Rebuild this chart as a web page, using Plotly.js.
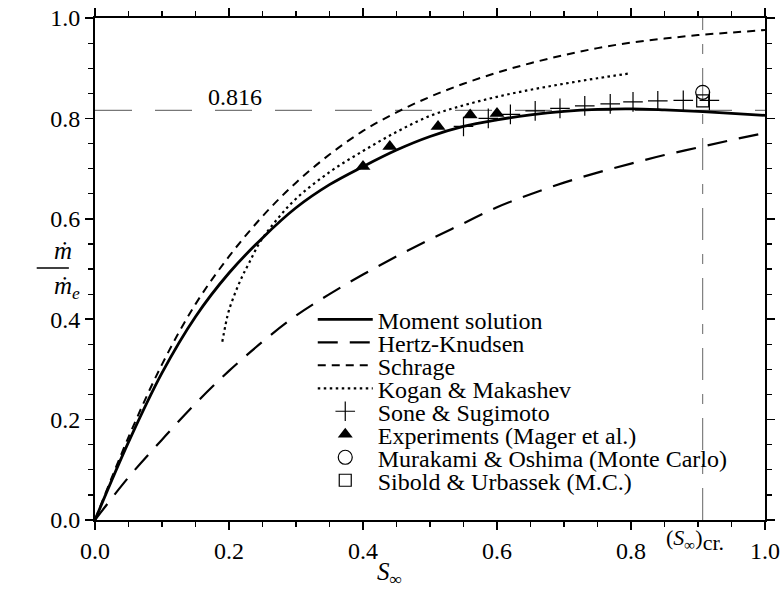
<!DOCTYPE html>
<html>
<head>
<meta charset="utf-8">
<script src="https://cdn.plot.ly/plotly-3.0.1.min.js"></script>
<style>html,body{margin:0;padding:0;background:#fff;}#chart{width:784px;height:590px;}</style>
</head>
<body>
<div id="chart"></div>
<script>
// ---- data ----
const sMoment = [0,0.05,0.1,0.15,0.2,0.25,0.3,0.35,0.4,0.45,0.5,0.55,0.6,0.65,0.7,0.75,0.8,0.85,0.9,0.95,1.0];
const mMoment = [0,0.155,0.293,0.405,0.492,0.562,0.622,0.668,0.704,0.737,0.764,0.784,0.797,0.807,0.814,0.818,0.819,0.817,0.814,0.810,0.806];

const sHK = [0,0.05,0.1,0.15,0.2,0.25,0.3,0.35,0.4,0.45,0.5,0.55,0.6,0.65,0.7,0.75,0.8,0.85,0.9,0.95,1.0];
const mHK = [0,0.085,0.16,0.232,0.297,0.355,0.407,0.45,0.489,0.525,0.559,0.591,0.623,0.649,0.672,0.692,0.71,0.727,0.742,0.757,0.771];

const sSchrage = [0,0.05,0.1,0.15,0.2,0.25,0.3,0.35,0.4,0.45,0.5,0.55,0.6,0.65,0.7,0.75,0.8,0.85,0.9,0.95,1.0];
const mSchrage = [0,0.165,0.31,0.43,0.525,0.605,0.672,0.728,0.775,0.812,0.843,0.869,0.891,0.91,0.926,0.94,0.951,0.959,0.966,0.971,0.976];

const sKogan = [0.19,0.195,0.2,0.21,0.22,0.23,0.246,0.27,0.3,0.35,0.4,0.45,0.5,0.55,0.6,0.65,0.7,0.75,0.8];
const mKogan = [0.355,0.39,0.418,0.455,0.486,0.512,0.553,0.596,0.64,0.693,0.735,0.773,0.805,0.826,0.843,0.857,0.869,0.88,0.89];

const sSone = [0.55,0.587,0.62,0.657,0.694,0.731,0.769,0.803,0.84,0.878,0.917];
const mSone = [0.784,0.800,0.808,0.815,0.820,0.825,0.829,0.833,0.835,0.836,0.836];

const sExp = [0.40,0.44,0.512,0.56,0.60];
const mExp = [0.704,0.744,0.784,0.807,0.81];

const sMurakami = [0.907];
const mMurakami = [0.852];
const sSibold = [0.907];
const mSibold = [0.835];

const sCritical = 0.907;
const mLimit = 0.816;

const legendNames = ["Moment solution","Hertz-Knudsen","Schrage","Kogan & Makashev","Sone & Sugimoto","Experiments (Mager et al.)","Murakami & Oshima (Monte Carlo)","Sibold & Urbassek (M.C.)"];
const xTicks = [0,0.2,0.4,0.6,0.8,1.0];
const xTickText = ["0.0","0.2","0.4","0.6","0.8","1.0"];
const yTicks = [0,0.2,0.4,0.6,0.8,1.0];
const yTickText = ["0.0","0.2","0.4","0.6","0.8","1.0"];

// ---- chart ----
const FONT = "Liberation Serif";
const legId = i => i === 0 ? "legend" : "legend" + (i + 1);

const traces = [
  {x:[0,1], y:[mLimit,mLimit], mode:"lines", line:{color:"#777", width:1.2, dash:"37px,23px"}, showlegend:false, hoverinfo:"skip"},
  {x:[sCritical,sCritical], y:[0,1], mode:"lines", line:{color:"#666", width:1, dash:"32px,14px,10px,14px"}, showlegend:false, hoverinfo:"skip"},
  {x:sHK, y:mHK, mode:"lines", name:legendNames[1], legend:legId(1), line:{color:"#000", width:2.2, dash:"20px,12px", shape:"spline"}},
  {x:sSchrage, y:mSchrage, mode:"lines", name:legendNames[2], legend:legId(2), line:{color:"#000", width:2, dash:"8px,6px", shape:"spline"}},
  {x:sKogan, y:mKogan, mode:"lines", name:legendNames[3], legend:legId(3), line:{color:"#000", width:2.2, dash:"2.5px,3.5px", shape:"spline"}},
  {x:sMoment, y:mMoment, mode:"lines", name:legendNames[0], legend:legId(0), line:{color:"#000", width:2.8, shape:"spline"}},
  {x:sSone, y:mSone, mode:"markers", name:legendNames[4], legend:legId(4), marker:{symbol:"cross-thin-open", size:14, color:"#000", line:{color:"#000", width:1.2}}},
  {x:sExp, y:mExp, mode:"markers", name:legendNames[5], legend:legId(5), marker:{symbol:"triangle-up", size:13, color:"#000"}},
  {x:sMurakami, y:mMurakami, mode:"markers", name:legendNames[6], legend:legId(6), marker:{symbol:"circle-open", size:14, color:"#000", line:{color:"#000", width:1.2}}},
  {x:sSibold, y:mSibold, mode:"markers", name:legendNames[7], legend:legId(7), marker:{symbol:"square-open", size:12, color:"#000", line:{color:"#000", width:1.2}}}
];

const axisCommon = {
  range:[0,1], showgrid:false, zeroline:false, showline:true, linecolor:"#000", linewidth:2,
  mirror:"allticks", ticks:"outside", ticklen:8, tickwidth:1.5, tickcolor:"#000",
  minor:{dtick:0.05, ticks:"outside", ticklen:5, tickwidth:1.2, tickcolor:"#000"},
  tickfont:{family:FONT, size:24, color:"#000"}, fixedrange:true
};

const layout = {
  width:784, height:590,
  margin:{l:95, r:19, t:18, b:70},
  paper_bgcolor:"#fff", plot_bgcolor:"#fff",
  font:{family:FONT, color:"#000"},
  xaxis:Object.assign({}, axisCommon, {tickvals:xTicks, ticktext:xTickText}),
  yaxis:Object.assign({}, axisCommon, {tickvals:yTicks, ticktext:yTickText}),
  annotations:[
    {xref:"x", yref:"y", x:0.209, y:mLimit, yanchor:"bottom", text:"0.816", showarrow:false, font:{family:FONT, size:24}, yshift:-2},
    {xref:"x", yref:"paper", x:0.895, y:0, yanchor:"top", text:"(<i>S</i><sub>∞</sub>)<sub><span style=\"font-size:22px\">cr.</span></sub>", showarrow:false, font:{family:FONT, size:22}, yshift:-3},
    {xref:"x", yref:"paper", x:0.44, y:0, yanchor:"top", text:"<i>S</i><sub>∞</sub>", showarrow:false, font:{family:FONT, size:25}, yshift:-36},
    {xref:"paper", yref:"paper", x:-0.064, y:0.536, text:"<i>ṁ</i>", showarrow:false, font:{family:FONT, size:25}},
    {xref:"paper", yref:"paper", x:-0.064, y:0.464, text:"<i>ṁ</i><sub><i>e</i></sub>", showarrow:false, font:{family:FONT, size:25}}
  ],
  shapes:[
    {type:"line", xref:"paper", yref:"paper", x0:-0.087, x1:-0.039, y0:0.502, y1:0.502, line:{color:"#000", width:1.3}}
  ],
  showlegend:true
};

const legX = 0.325, legY0 = 0.399, legStep = 0.0458;
for (let i = 0; i < legendNames.length; i++) {
  layout[legId(i)] = {
    x:legX, xanchor:"left", y:legY0 - i*legStep, yanchor:"middle",
    bgcolor:"rgba(0,0,0,0)", borderwidth:0, itemwidth:55,
    font:{family:FONT, size:24, color:"#000"}, itemclick:false, itemdoubleclick:false
  };
}

Plotly.newPlot("chart", traces, layout, {displayModeBar:false, staticPlot:true});
</script>
</body>
</html>
